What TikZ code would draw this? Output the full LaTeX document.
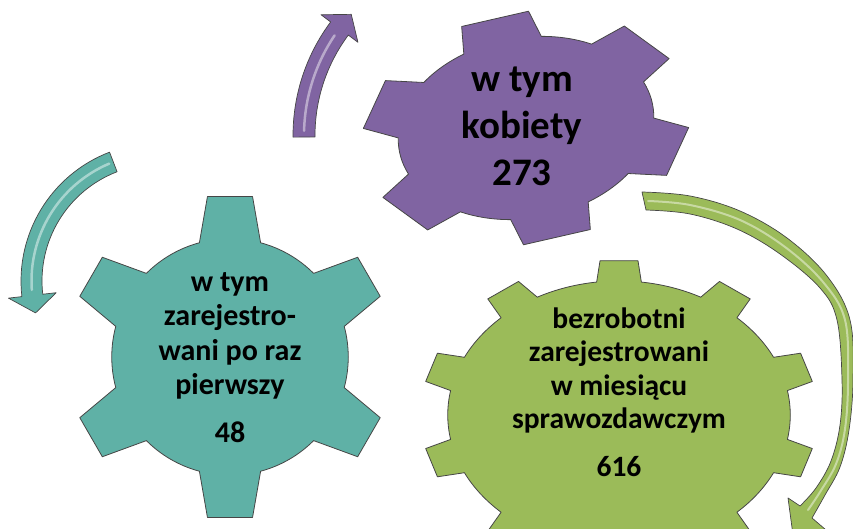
\documentclass[tikz,border=0pt]{standalone}
\usepackage{fontspec}
\setmainfont{Carlito}
\definecolor{gearteal}{RGB}{95,177,166}
\definecolor{gearpurple}{RGB}{128,100,162}
\definecolor{geargreen}{RGB}{155,187,89}
\definecolor{gearline}{RGB}{70,70,70}
\tikzset{
	gear/.style={draw=gearline, line width=0.8pt, line join=round},
	ringarrow/.style={draw=gearline, line width=0.7pt, line join=round},
	gloss/.style={white, opacity=0.45, line width=2.5pt, line cap=round},
	gearlabel/.style={inner sep=0pt, align=center, anchor=south}
}
\begin{document}
\begin{tikzpicture}[x=1pt, y=1pt]
	\useasboundingbox (0,0) rectangle (853,529);
	\clip (0,0) rectangle (853,529);
	
	%arrows
	\begin{scope}[shift={(159,248)}]
	\draw[ringarrow, fill=gearteal] (111:138) arc[start angle=111, end angle=186.5, radius=138] -- (186.5:151.5) -- (194.5:127.5) -- (186.5:103.5) -- (186.5:117) arc[start angle=186.5, end angle=111, radius=117] -- cycle;
	\draw[gloss] (113:127.5) arc[start angle=113, end angle=184, radius=127.5];
	\end{scope}
	\begin{scope}[shift={(483,393.5)}]
	\draw[ringarrow, fill=gearpurple] (180.5:190) arc[start angle=180.5, end angle=143.3, radius=190] -- (143.3:202) -- (137.4:179) -- (143.3:156) -- (143.3:168) arc[start angle=143.3, end angle=180.5, radius=168] -- cycle;
	\draw[gloss] (178.5:179) arc[start angle=178.5, end angle=146, radius=179];
	\end{scope}
	\draw[ringarrow, fill=geargreen] plot[smooth, tension=0.6] coordinates {(642,337) (690,333) (740,318) (787,291) (827,253) (850,209) (853,149) (849,99) (840,62) (825,34) (812,11)} -- (826,-1) -- (793,-6) -- (788,31) -- plot[smooth, tension=0.6] coordinates {(800,23) (816,41) (831,68) (840,104) (842,149) (837,209) (820,241) (780,275) (737,300) (690,315) (646,319)} -- cycle;
	\draw[gloss, line width=2pt] plot[smooth, tension=0.6] coordinates {(648,328) (690,324) (740,309) (785,282) (823,247) (845,209) (848,149) (845,100) (836,65) (820,37) (808,19)};
	
	%gears
	\begin{scope}[shift={(230,172)}, scale=162]
	\draw[gear, fill=gearteal] (75:0.73) \foreach \a in {90,150,...,390} { -- (\a-8:1) -- (\a+8:1) -- (\a+15:0.73) arc[start angle=\a+15, end angle=\a+45, radius=0.73] } -- cycle;
	\end{scope}
	\begin{scope}[cm={155,-24,53,115,(526,401)}]
	\draw[gear, fill=gearpurple] (-18:0.78) \foreach \a in {0,60,...,300} { -- (\a-12:1) -- (\a+12:1) -- (\a+18:0.78) arc[start angle=\a+18, end angle=\a+42, radius=0.78] } -- cycle;
	\end{scope}
	\begin{scope}[shift={(619,114)}, xscale=198, yscale=155]
	\draw[gear, fill=geargreen] (82.5:0.865) \foreach \a in {90,126,...,414} { -- (\a-5.5:1) -- (\a+5.5:1) -- (\a+7.5:0.865) arc[start angle=\a+7.5, end angle=\a+28.5, radius=0.865] } -- cycle;
	\end{scope}
	
	%labels
	\node[gearlabel, font=\bfseries\fontsize{30}{34.3}\selectfont] (pierwszy) at (230,86.4) {w tym\\zarejestro-\\wani po raz\\pierwszy\\[13.3pt]48};
	\node[gearlabel, font=\bfseries\fontsize{39}{47}\selectfont] (kobiety) at (522,343) {w tym\\kobiety\\273};
	\node[gearlabel, font=\bfseries\fontsize{29.5}{33.3}\selectfont] (bezrobotni) at (619,52.5) {bezrobotni\\zarejestrowani\\w miesiącu\\sprawozdawczym\\[14.2pt]616};
\end{tikzpicture}
\end{document}
